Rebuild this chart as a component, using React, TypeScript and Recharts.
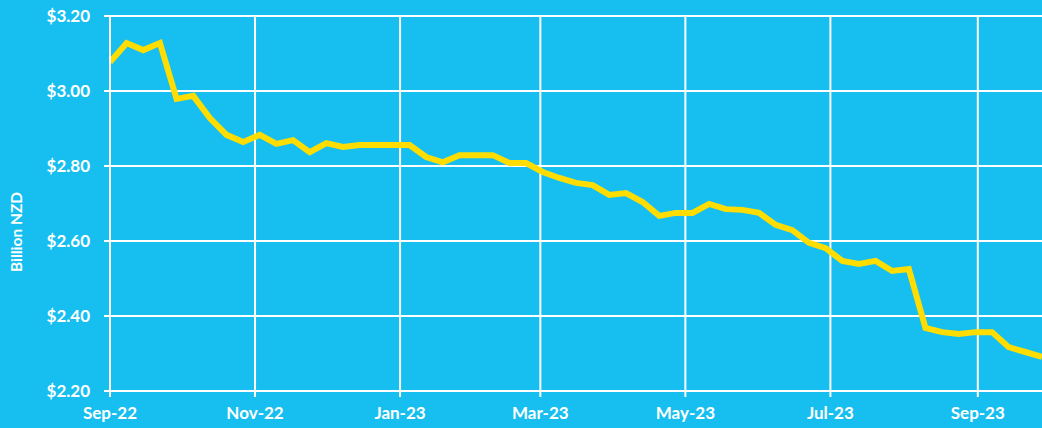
import React from 'react'
import { LineChart, Line, XAxis, YAxis, CartesianGrid, Label } from 'recharts'

// days since 1 Sep 2022, weekly observations
const days = [
  0, 7, 14, 21, 28, 35, 42, 49, 56, 63, 70, 77, 84, 91, 98, 105, 112, 119, 126,
  133, 140, 147, 154, 161, 168, 175, 182, 189, 196, 203, 210, 217, 224, 231,
  238, 245, 252, 259, 266, 273, 280, 287, 294, 301, 308, 315, 322, 329, 336,
  343, 350, 357, 364, 371, 378, 385, 392,
]

// billion NZD
const values = [
  3.077, 3.128, 3.109, 3.128, 2.979, 2.987, 2.928, 2.883, 2.864, 2.883, 2.859,
  2.869, 2.837, 2.861, 2.851, 2.856, 2.856, 2.856, 2.856, 2.824, 2.81, 2.829,
  2.829, 2.829, 2.808, 2.808, 2.784, 2.768, 2.755, 2.749, 2.723, 2.728, 2.704,
  2.667, 2.675, 2.675, 2.699, 2.685, 2.683, 2.675, 2.643, 2.629, 2.595, 2.581,
  2.547, 2.539, 2.547, 2.52, 2.525, 2.368, 2.357, 2.352, 2.357, 2.357, 2.317,
  2.304, 2.291,
]

const monthTicks = [0, 61, 122, 181, 242, 303, 365]
const monthLabels = ['Sep-22', 'Nov-22', 'Jan-23', 'Mar-23', 'May-23', 'Jul-23', 'Sep-23']
const yTicks = [2.2, 2.4, 2.6, 2.8, 3.0, 3.2]

const data = days.map((d, i) => ({ day: d, value: values[i] }))

const BG = '#17BFF0'
const FONT = 'Lato, "DejaVu Sans", sans-serif'

export default function App() {
  const tickStyle = { fill: '#fff', fontSize: 17, fontWeight: 700, fontFamily: FONT }
  return (
    <div style={{ position: 'absolute', left: 0, top: 0, width: 1042, height: 428, background: BG, overflow: 'hidden' }}>
      <LineChart width={1042} height={428} data={data} margin={{ top: 16, right: 0, bottom: 0, left: 0 }}>
        <CartesianGrid stroke="#fff" strokeWidth={2} horizontalValues={yTicks} verticalValues={monthTicks} />
        <XAxis
          type="number"
          dataKey="day"
          domain={[0, 392]}
          ticks={monthTicks}
          tickFormatter={(v) => monthLabels[monthTicks.indexOf(v)] ?? ''}
          stroke="#fff"
          strokeWidth={2}
          tickSize={6}
          tickMargin={10}
          height={37}
          tick={tickStyle}
          allowDataOverflow
        />
        <YAxis
          type="number"
          domain={[2.2, 3.2]}
          ticks={yTicks}
          tickFormatter={(v) => `$${Number(v).toFixed(2)}`}
          stroke="#fff"
          strokeWidth={2}
          tickSize={6}
          tickMargin={14}
          width={110}
          tick={tickStyle}
        >
          <Label
            content={() => (
              <text
                x={16}
                y={232}
                transform="rotate(-90 16 232)"
                textAnchor="middle"
                dominantBaseline="central"
                fill="#fff"
                fontSize={15.5}
                fontWeight={700}
                fontFamily={FONT}
              >
                Billion NZD
              </text>
            )}
          />
        </YAxis>
        <Line
          type="linear"
          dataKey="value"
          stroke="#FFDD00"
          strokeWidth={6}
          dot={false}
          isAnimationActive={false}
        />
      </LineChart>
    </div>
  )
}
